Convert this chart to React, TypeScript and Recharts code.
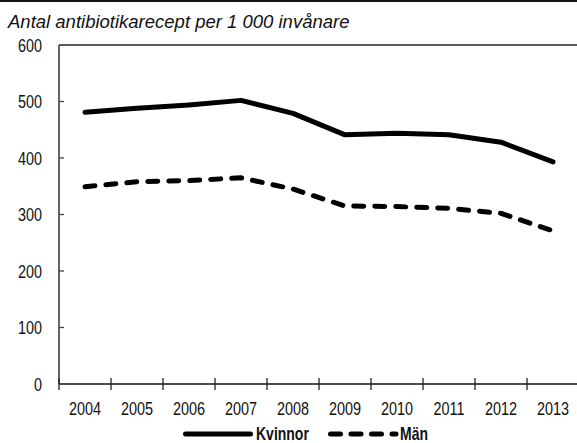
import { LineChart, Line, XAxis, YAxis, Legend, ReferenceLine } from "recharts";

// antibiotikarecept per 1 000 invånare
const years = ["2004", "2005", "2006", "2007", "2008", "2009", "2010", "2011", "2012", "2013"];
const kvinnor = [481, 488, 494, 502, 479, 441, 444, 441, 428, 393];
const man = [349, 358, 360, 365, 345, 315, 314, 311, 302, 271];
const yTicks = [0, 100, 200, 300, 400, 500, 600];

const data = years.map((year, i) => ({ year, Kvinnor: kvinnor[i], Män: man[i] }));

// no condensed font installed, so squeeze Liberation Sans horizontally
const FONT = "'Liberation Sans', Arial, sans-serif";
const SQUEEZE = 0.8;
const BAND_HALF = 26;

const NarrowText = ({ x, y, anchor = "start", bold = false, size = 18, children }: any) => (
  <text
    transform={`translate(${x},${y}) scale(${SQUEEZE},1)`}
    textAnchor={anchor}
    fontFamily={FONT}
    fontSize={size}
    fontWeight={bold ? "bold" : "normal"}
    fill="#111"
  >
    {children}
  </text>
);

const XTick = (props: any) => {
  const { x, y, payload, index } = props;
  return (
    <g>
      <line x1={x - BAND_HALF} x2={x - BAND_HALF} y1={y - 6} y2={y + 6} stroke="#222" strokeWidth={1.3} />
      {index === years.length - 1 && (
        <line x1={x + BAND_HALF} x2={x + BAND_HALF} y1={y - 6} y2={y + 6} stroke="#222" strokeWidth={1.3} />
      )}
      <NarrowText x={x} y={y + 31} anchor="middle">{payload.value}</NarrowText>
    </g>
  );
};

const YTick = (props: any) => {
  const { x, y, payload } = props;
  return (
    <g>
      {payload.value !== 0 && payload.value !== 600 && (
        <line x1={x} x2={x + 5} y1={y} y2={y} stroke="#444" strokeWidth={1.3} />
      )}
      <NarrowText x={x - 17} y={y + 6.5} anchor="end">{payload.value}</NarrowText>
    </g>
  );
};

const LegendContent = () => (
  <svg width={577} height={17}>
    <line x1={185.5} x2={250.5} y1={8} y2={8} stroke="#000" strokeWidth={5} strokeLinecap="round" />
    <NarrowText x={256} y={14} bold size={17.5}>Kvinnor</NarrowText>
    <line x1={330.5} x2={396} y1={8} y2={8} stroke="#000" strokeWidth={5} strokeLinecap="round" strokeDasharray="10 10.5" />
    <NarrowText x={400} y={14} bold size={17.5}>Män</NarrowText>
  </svg>
);

export default function App() {
  return (
    <div style={{ position: "absolute", left: 0, top: 0, width: 577, height: 443, background: "#fff", overflow: "hidden" }}>
      <div style={{ position: "absolute", left: 0, top: 0, width: 577, height: 2, background: "#111" }} />
      <div
        style={{
          position: "absolute",
          left: 8,
          top: 13,
          fontFamily: FONT,
          fontStyle: "italic",
          fontSize: 18.5,
          lineHeight: "18.5px",
          color: "#111",
          whiteSpace: "nowrap",
        }}
      >
        Antal antibiotikarecept per 1 000 invånare
      </div>
      <LineChart width={577} height={443} data={data} margin={{ top: 45, right: -2, left: 0, bottom: 0 }}>
        <XAxis
          dataKey="year"
          scale="band"
          height={59}
          tickSize={0}
          tickMargin={0}
          tickLine={false}
          axisLine={{ stroke: "#111", strokeWidth: 1.5 }}
          tick={<XTick />}
          interval={0}
        />
        <YAxis
          width={59}
          domain={[0, 600]}
          ticks={yTicks}
          tickSize={0}
          tickMargin={0}
          tickLine={false}
          axisLine={{ stroke: "#333", strokeWidth: 1.5 }}
          tick={<YTick />}
          interval={0}
        />
        <ReferenceLine y={600} stroke="#222" strokeWidth={1.3} />
        <Legend verticalAlign="middle" align="center" wrapperStyle={{ top: 426, left: 0, width: 577, height: 17 }} content={<LegendContent />} />
        <Line
          type="linear"
          dataKey="Kvinnor"
          stroke="#000"
          strokeWidth={5}
          strokeLinecap="round"
          strokeLinejoin="round"
          dot={false}
          activeDot={false}
          isAnimationActive={false}
        />
        <Line
          type="linear"
          dataKey="Män"
          stroke="#000"
          strokeWidth={5}
          strokeLinecap="round"
          strokeLinejoin="round"
          strokeDasharray="10 11"
          dot={false}
          activeDot={false}
          isAnimationActive={false}
        />
      </LineChart>
    </div>
  );
}
